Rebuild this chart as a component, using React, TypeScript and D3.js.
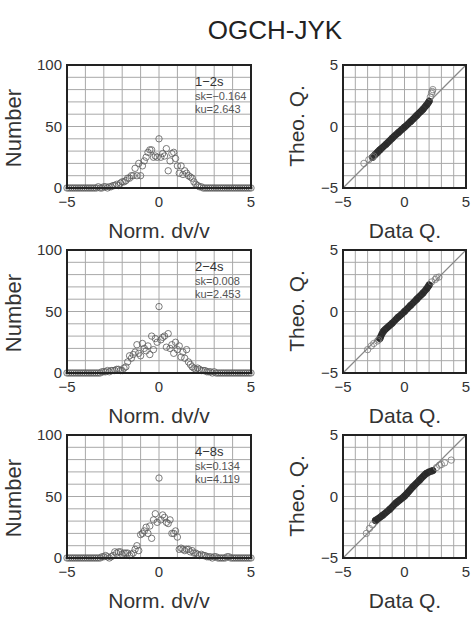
import React from 'react';
import * as d3 from 'd3';

// histogram counts, bins of 0.1 from -5 to 5 (101 bins)
const counts12 = [
  0, 0, 0, 0, 0, 0, 0, 0, 0, 0,
  0, 0, 0, 0, 0, 0, 0, 1, 0, 0,
  1, 1, 0, 1, 1, 2, 2, 3, 2, 4,
  5, 5, 6, 8, 8, 10, 10, 16, 10, 20,
  10, 18, 22, 25, 29, 31, 31, 25, 26, 25,
  40, 25, 28, 26, 32, 14, 22, 28, 29, 24,
  18, 12, 18, 11, 14, 12, 10, 9, 8, 5,
  3, 2, 1, 1, 0, 0, 0, 0, 0, 0,
  0, 0, 0, 0, 0, 0, 0, 0, 0, 0,
  0, 0, 0, 0, 0, 0, 0, 0, 0, 0,
  0,
];
const counts24 = [
  0, 0, 0, 0, 0, 0, 0, 0, 0, 0,
  0, 0, 0, 0, 0, 0, 0, 0, 0, 1,
  1, 1, 2, 1, 2, 2, 2, 3, 3, 2,
  2, 4, 5, 9, 14, 12, 15, 17, 23, 16,
  14, 24, 20, 18, 22, 15, 30, 19, 28, 25,
  54, 27, 29, 30, 21, 32, 20, 23, 16, 25,
  19, 22, 13, 17, 12, 19, 9, 7, 5, 4,
  3, 4, 3, 2, 2, 2, 1, 1, 1, 0,
  1, 0, 0, 0, 0, 0, 0, 0, 0, 0,
  0, 0, 0, 0, 0, 0, 0, 0, 0, 0,
  0,
];
const counts48 = [
  0, 0, 0, 0, 0, 0, 0, 0, 0, 0,
  0, 0, 0, 0, 0, 0, 0, 0, 0, 1,
  1, 2, 1, 0, 1, 2, 5, 4, 5, 5,
  3, 4, 4, 4, 2, 3, 4, 7, 10, 6,
  19, 20, 22, 25, 20, 26, 16, 31, 36, 29,
  65, 31, 35, 33, 29, 28, 31, 20, 20, 22,
  17, 7, 8, 7, 6, 7, 7, 5, 6, 4,
  4, 3, 2, 3, 2, 2, 1, 1, 1, 0,
  1, 1, 0, 0, 0, 0, 0, 1, 1, 0,
  0, 0, 0, 0, 0, 0, 0, 0, 0, 0,
  0,
];
const bins = d3.range(101).map(i => -5 + i * 0.1);

const periods = ['1−2s', '2−4s', '4−8s'];
const skews = ['sk=−0.164', 'sk=0.008', 'sk=0.134'];
const kurts = ['ku=2.643', 'ku=2.453', 'ku=4.119'];

// QQ points [data quantile, theoretical quantile]
const qq12Band: [number, number][] = [
  [-2.6, -2.5], [-2.4, -2.3], [-2.2, -2.1], [-2.0, -1.9], [-1.5, -1.45], [-1.0, -0.95],
  [-0.5, -0.5], [0, -0.05], [0.5, 0.4], [1.0, 0.9], [1.5, 1.4], [1.8, 1.75], [2.0, 2.05],
];
const qq12Tail: [number, number][] = [
  [-3.3, -3.0], [-2.9, -2.7], [-2.6, -2.5], [-2.5, -2.4], [2.1, 2.4], [2.2, 2.7], [2.3, 3.0], [2.25, 2.85],
];
const qq24Band: [number, number][] = [
  [-2.0, -2.2], [-1.7, -1.6], [-1.0, -0.95], [-0.5, -0.45], [0, 0], [0.5, 0.5],
  [1.0, 1.0], [1.5, 1.5], [1.8, 1.85], [2.0, 2.15],
];
const qq24Tail: [number, number][] = [
  [-3.0, -3.1], [-2.7, -2.8], [-2.5, -2.6], [-2.2, -2.4], [-2.1, -2.3],
  [2.2, 2.4], [2.5, 2.6], [2.8, 2.8], [2.6, 2.75],
];
const qq48Band: [number, number][] = [
  [-2.36, -1.95], [-1.77, -1.52], [-1.22, -1.06], [-0.68, -0.52], [0, 0.03],
  [0.68, 0.79], [1.22, 1.33], [1.77, 1.87], [2.3, 2.1],
];
const qq48Tail: [number, number][] = [
  [-3.1, -3.0], [-2.85, -2.6], [-2.6, -2.3], [2.6, 2.35], [2.85, 2.55], [3.0, 2.6],
  [3.26, 2.74], [3.8, 2.96],
];

const histCounts = [counts12, counts24, counts48];
const qqBands = [qq12Band, qq24Band, qq48Band];
const qqTails = [qq12Tail, qq24Tail, qq48Tail];

const FONT = 'Liberation Sans, Arial, sans-serif';
const TEXT = '#333';
const rowTops = [65, 250, 435];
const H = 123;

function Frame({ x0, w, top, nx, ny }: { x0: number; w: number; top: number; nx: number; ny: number }) {
  const gx = d3.range(1, nx).map(i => x0 + (w * i) / nx);
  const gy = d3.range(1, ny).map(i => top + (H * i) / ny);
  return (
    <g>
      {gx.map((x, i) => (
        <line key={'v' + i} x1={x} x2={x} y1={top} y2={top + H} stroke="#a8a8a8" strokeWidth={1} />
      ))}
      {gy.map((y, i) => (
        <line key={'h' + i} x1={x0} x2={x0 + w} y1={y} y2={y} stroke="#a8a8a8" strokeWidth={1} />
      ))}
    </g>
  );
}

function Histogram({ row }: { row: number }) {
  const top = rowTops[row];
  const x = d3.scaleLinear().domain([-5, 5]).range([67, 251]);
  const y = d3.scaleLinear().domain([0, 100]).range([top + H, top]);
  const data = histCounts[row];
  return (
    <g fontFamily={FONT} fill={TEXT}>
      <Frame x0={67} w={184} top={top} nx={10} ny={10} />
      {data.map((c, i) => (
        <circle key={i} cx={x(bins[i])} cy={y(c)} r={3.2} fill="none" stroke="#5a5a5a" strokeWidth={0.8} />
      ))}
      <rect x={67} y={top} width={184} height={H} fill="none" stroke="#222" strokeWidth={2} />
      {[0, 50, 100].map(t => (
        <text key={t} x={62} y={y(t)} dy="0.35em" textAnchor="end" fontSize={15}>{t}</text>
      ))}
      {[-5, 0, 5].map(t => (
        <text key={t} x={x(t)} y={top + H + 19} textAnchor="middle" fontSize={15}>{t < 0 ? '−' + -t : t}</text>
      ))}
      <text x={195} y={top + 21} fontSize={13}>{periods[row]}</text>
      <text x={195} y={top + 35} fontSize={11} fill="#555">{skews[row]}</text>
      <text x={195} y={top + 48} fontSize={11} fill="#555">{kurts[row]}</text>
      <text x={159} y={top + H + 50} textAnchor="middle" fontSize={21}>Norm. dv/v</text>
      <text transform={`translate(21,${top + 63}) rotate(-90)`} textAnchor="middle" fontSize={22}>Number</text>
    </g>
  );
}

function QQ({ row }: { row: number }) {
  const top = rowTops[row];
  const x = d3.scaleLinear().domain([-5, 5]).range([343, 466]);
  const y = d3.scaleLinear().domain([-5, 5]).range([top + H, top]);
  const line = d3.line<[number, number]>().x(d => x(d[0])).y(d => y(d[1])).curve(d3.curveCatmullRom);
  const band = qqBands[row];
  const tail = qqTails[row];
  return (
    <g fontFamily={FONT} fill={TEXT}>
      <Frame x0={343} w={123} top={top} nx={10} ny={10} />
      <line x1={x(-5)} y1={y(-5)} x2={x(5)} y2={y(5)} stroke="#888" strokeWidth={1.2} />
      <path d={line(band) || ''} fill="none" stroke="#2a2a2a" strokeWidth={7} strokeLinecap="round" />
      {band.map((d, i) => (
        <circle key={'b' + i} cx={x(d[0])} cy={y(d[1])} r={3.2} fill="none" stroke="#333" strokeWidth={0.8} />
      ))}
      {tail.map((d, i) => (
        <circle key={'t' + i} cx={x(d[0])} cy={y(d[1])} r={3.2} fill="none" stroke="#777" strokeWidth={0.8} />
      ))}
      <rect x={343} y={top} width={123} height={H} fill="none" stroke="#222" strokeWidth={2} />
      {[-5, 0, 5].map(t => (
        <text key={'y' + t} x={338} y={y(t)} dy="0.35em" textAnchor="end" fontSize={15}>{t < 0 ? '−' + -t : t}</text>
      ))}
      {[-5, 0, 5].map(t => (
        <text key={'x' + t} x={x(t)} y={top + H + 19} textAnchor="middle" fontSize={15}>{t < 0 ? '−' + -t : t}</text>
      ))}
      <text x={405} y={top + H + 50} textAnchor="middle" fontSize={21}>Data Q.</text>
      <text transform={`translate(304,${top + 61}) rotate(-90)`} textAnchor="middle" fontSize={21}>Theo. Q.</text>
    </g>
  );
}

export default function App() {
  return (
    <svg width={474} height={621} style={{ position: 'absolute', left: 0, top: 0, background: '#fff' }}>
      <text x={275} y={39} textAnchor="middle" fontFamily={FONT} fontSize={26} fill="#222">OGCH-JYK</text>
      {[0, 1, 2].map(r => (
        <g key={r}>
          <Histogram row={r} />
          <QQ row={r} />
        </g>
      ))}
    </svg>
  );
}
